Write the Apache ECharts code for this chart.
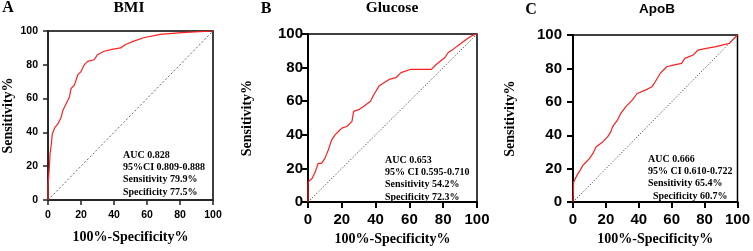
<!DOCTYPE html>
<html>
<head>
<meta charset="utf-8">
<script src="https://cdn.jsdelivr.net/npm/echarts@6/dist/echarts.min.js"></script>
<style>
  html, body { margin: 0; padding: 0; background: #fff; }
  #roc { width: 753px; height: 251px; }
</style>
</head>
<body>
<div id="roc"></div>
<script>
// ROC points: [100%-Specificity, Sensitivity]
var bmiRoc = [[0,0],[0,8],[0.5,15],[1,22],[1.2,27],[2,33],[2.6,39],[4.2,43],[6,45],[7,47],[8,49],[9,53],[10,55],[11,57],[13,61],[14,66],[16,68],[18,74],[20,76],[22,80],[24,82],[28,83],[30,86],[34,88],[38,89],[44,90],[47,92],[52,94],[58,96],[68,98],[81,99],[100,100]];
var glucoseRoc = [[0,0],[0,12],[2.4,14],[4.3,18],[6,23],[8,23],[10,26],[12,31],[14,37],[16,40],[18,42],[20,44],[23,45],[26,48],[27,54],[30,55],[33,57],[37,60],[39,64],[42,69],[45,71],[48,73],[52,74],[55,77],[61,79],[73,79],[76,82],[81,86],[83,89],[86,91],[90,94],[94,97],[97,99],[100,100]];
var apobRoc = [[0,0],[0.4,12],[2.4,16],[4.3,19],[6,22],[8,24],[10,26],[12,29],[14,33],[18,36],[21,39],[23,42],[24,45],[27,49],[29,53],[32,57],[36,61],[39,65],[44,67],[48,69],[50,72],[53,77],[57,81],[61,82],[66,83],[68,86],[73,88],[76,91],[81,92],[87,93],[95,95],[100,100]];
var refLine = [[0,0],[100,100]];

var panelLetters = ['A', 'B', 'C'];
var panelTitles = ['BMI', 'Glucose', 'ApoB'];
var statLines = [
    ['AUC 0.828', '95%CI 0.809-0.888', 'Sensitivity 79.9%', 'Specificity 77.5%'],
    ['AUC 0.653', '95% CI 0.595-0.710', 'Sensitivity 54.2%', 'Specificity 72.3%'],
    ['AUC 0.666', '95% CI 0.610-0.722', 'Sensitivity 65.4%', '  Specificity 60.7%']
];
var xName = '100%-Specificity%';
var yName = 'Sensitivity%';

var chart = echarts.init(document.getElementById('roc'));

var serif = 'Liberation Serif, Times New Roman, serif';
var sans = 'Liberation Sans, Arial, sans-serif';

var grids = [
    {left: 45, top: 31, width: 168, height: 169},
    {left: 308, top: 34, width: 169, height: 169},
    {left: 573, top: 35, width: 169, height: 169}
];
var tickFont = [10.5, 15, 15];
var tickLen = [5, 6, 6];
var yMargin = [10, 5, 11];
var yGap = [33, 54, 56];
var xGap = [30, 20, 24];
var axisW = [1.5, 2, 2];
var axisC = ['#222', '#000', '#000'];
var diagStyle = [
    {color: '#666', width: 1, type: [2, 2]},
    {color: '#222', width: 1, type: [1, 2]},
    {color: '#222', width: 1, type: [1, 2]}
];
var curves = [bmiRoc, glucoseRoc, apobRoc];

var xAxes = [], yAxes = [], series = [], graphics = [];

grids.forEach(function(g, i){
    var line = {lineStyle: {color: axisC[i], width: axisW[i]}};
    xAxes.push({
        type: 'value', gridIndex: i, min: 0, max: 100, interval: 20,
        splitLine: {show: false},
        axisLine: {show: true, onZero: false, lineStyle: line.lineStyle},
        axisTick: {show: true, length: tickLen[i], lineStyle: line.lineStyle},
        axisLabel: {margin: 10, color: '#000', fontWeight: 'bold', fontFamily: sans, fontSize: tickFont[i]},
        name: xName, nameLocation: 'middle', nameGap: xGap[i],
        nameTextStyle: {color: '#000', fontWeight: 'bold', fontFamily: serif, fontSize: 14}
    });
    yAxes.push({
        type: 'value', gridIndex: i, min: 0, max: 100, interval: 20,
        splitLine: {show: false},
        axisLine: {show: true, onZero: false, lineStyle: line.lineStyle},
        axisTick: {show: true, length: tickLen[i], lineStyle: line.lineStyle},
        axisLabel: {margin: yMargin[i], color: '#000', fontWeight: 'bold', fontFamily: sans, fontSize: tickFont[i]},
        name: yName, nameLocation: 'middle', nameGap: yGap[i],
        nameTextStyle: {color: '#000', fontWeight: 'bold', fontFamily: serif, fontSize: 14}
    });
    series.push({
        type: 'line', xAxisIndex: i, yAxisIndex: i, data: refLine,
        symbol: 'none', silent: true, lineStyle: diagStyle[i], z: 2
    });
    series.push({
        type: 'line', xAxisIndex: i, yAxisIndex: i, data: curves[i],
        symbol: 'none', lineStyle: {color: '#ff1f1f', width: 1.2}, z: 3
    });
});

// panel letters and titles
var letterPos = [[8, 8], [266, 9], [531, 10]];
var titlePos = [[129, 8], [392, 8], [657, 9]];
panelLetters.forEach(function(t, i){
    graphics.push({type: 'text', x: letterPos[i][0], y: letterPos[i][1],
        style: {text: t, fill: '#000', font: 'bold 16px ' + serif, align: 'center', verticalAlign: 'middle'}});
});
panelTitles.forEach(function(t, i){
    var f = i === 2 ? 'bold 13.5px ' + sans : 'bold 15.5px ' + serif;
    graphics.push({type: 'text', x: titlePos[i][0], y: titlePos[i][1],
        style: {text: t, fill: '#000', font: f, align: 'center', verticalAlign: 'middle'}});
});

// AUC boxes
var statPos = [[123, 155.5], [385, 160.5], [648, 159.5]];
statLines.forEach(function(lines, i){
    lines.forEach(function(t, k){
        graphics.push({type: 'text', x: statPos[i][0], y: statPos[i][1] + k * 12.2,
            style: {text: t, fill: '#000', font: 'bold 10px ' + serif, align: 'left', verticalAlign: 'middle'}});
    });
});

var option = {
    animation: false,
    backgroundColor: '#fff',
    grid: grids.map(function(g){
        return {left: g.left, top: g.top, width: g.width, height: g.height,
            show: true, borderColor: '#000', borderWidth: 1.5, backgroundColor: 'transparent'};
    }),
    xAxis: xAxes,
    yAxis: yAxes,
    series: series,
    graphic: graphics
};
chart.setOption(option);
</script>
</body>
</html>
